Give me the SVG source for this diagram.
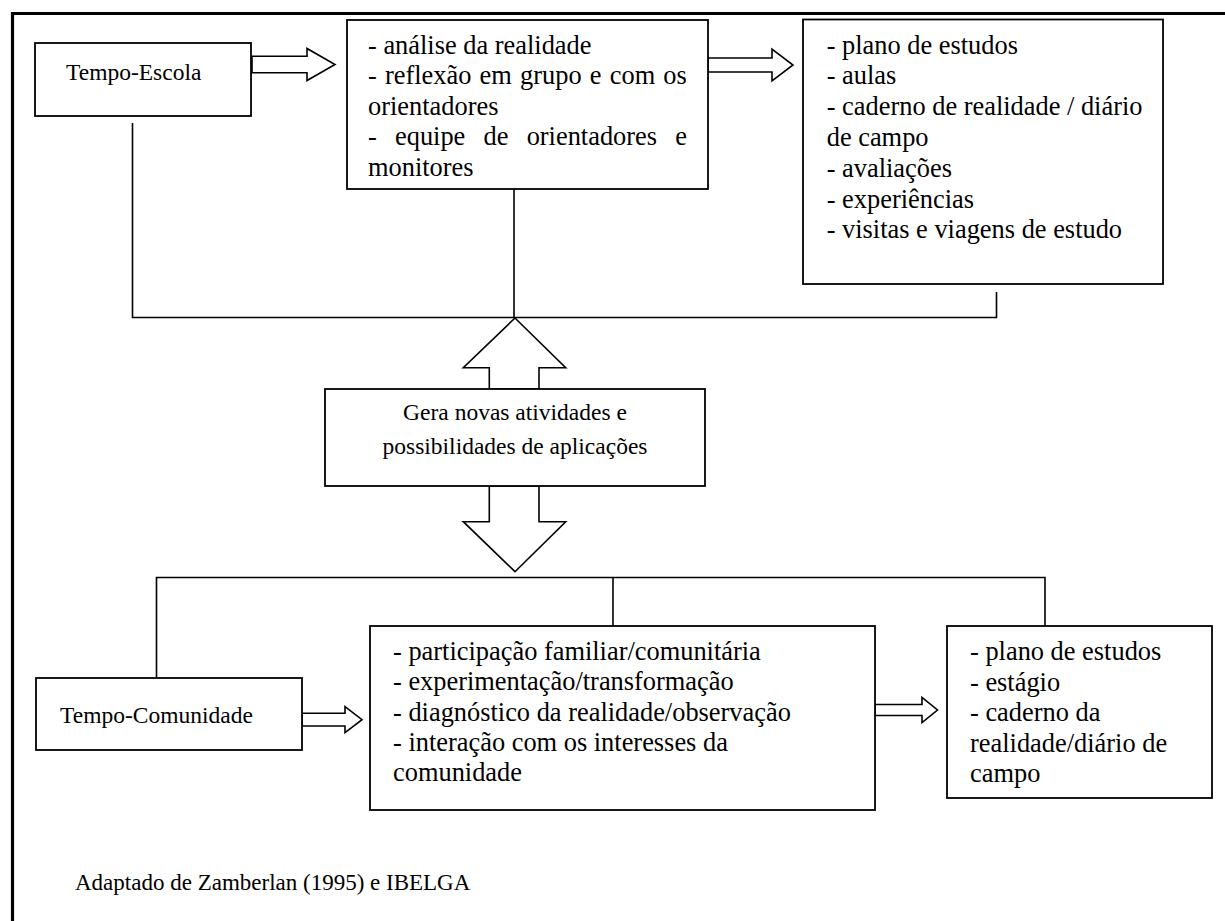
<svg xmlns="http://www.w3.org/2000/svg" width="1225" height="921" viewBox="0 0 1225 921">
<style>
.box{fill:#fff;stroke:#000;stroke-width:1.8}
.ln{fill:none;stroke:#000;stroke-width:1.6}
.ar{fill:#fff;stroke:#000;stroke-width:1.6;stroke-linejoin:miter}
text{font-family:"Liberation Serif","Times New Roman",serif;fill:#000}
.t26{font-size:26.4px}
.t23{font-size:23.5px}
.ft{font-size:23px}
</style>
<rect width="1225" height="921" fill="#fff"/>
<g id="frame">
<path d="M12.5 921 V13.5 H1225" fill="none" stroke="#000" stroke-width="3.2"/>
</g>
<g id="connectors">
<path class="ln" d="M132.5 123 V317.5 H996.5 V292"/>
<path class="ln" d="M514 189 V317.5"/>
<path class="ln" d="M156.5 678 V577.5 H1045 V626"/>
<path class="ln" d="M613 577.5 V626"/>
<polygon class="ar" d="M0 0" points="252,56.3 307,56.3 307,48.5 335,64.5 307,80.5 307,72.7 252,72.7"/>
<polygon class="ar" points="708,58 772,58 772,49 793,65 772,81 772,72 708,72"/>
<polygon class="ar" points="302,713.3 345,713.3 345,706.7 362,719.7 345,732.7 345,726 302,726"/>
<polygon class="ar" points="875,704.5 922,704.5 922,697.5 937.5,710 922,722.5 922,715.5 875,715.5"/>
<polygon class="ar" points="489.3,389 489.3,367.7 463.3,367.7 515,318 565.7,367.7 539,367.7 539,389"/>
<polygon class="ar" points="489.3,486 489.3,521.7 463.3,521.7 515,571.7 565.7,521.7 539,521.7 539,486"/>
</g>
<g id="tempo-escola">
<rect class="box" x="35" y="43" width="216" height="73"/>
<text class="t23" x="66" y="80">Tempo-Escola</text>
</g>
<g id="escola-atividades">
<rect class="box" x="347" y="20" width="361" height="169"/>
<text class="t26" x="368" y="53.5">- análise da realidade</text>
<text class="t26" x="368" y="84" word-spacing="1.6">- reflexão em grupo e com os</text>
<text class="t26" x="368" y="114.5">orientadores</text>
<text class="t26" x="368" y="145" word-spacing="11.6">- equipe de orientadores e</text>
<text class="t26" x="368" y="175.5">monitores</text>
</g>
<g id="escola-instrumentos">
<rect class="box" x="803" y="19.5" width="360" height="264.5"/>
<text class="t26" x="826.7" y="53.5">- plano de estudos</text>
<text class="t26" x="826.7" y="84.3">- aulas</text>
<text class="t26" x="826.7" y="115.1">- caderno de realidade / diário</text>
<text class="t26" x="826.7" y="145.9">de campo</text>
<text class="t26" x="826.7" y="176.7">- avaliações</text>
<text class="t26" x="826.7" y="207.5">- experiências</text>
<text class="t26" x="826.7" y="238.3">- visitas e viagens de estudo</text>
</g>
<g id="gera">
<rect class="box" x="325" y="389" width="380" height="97"/>
<text class="t23" x="515" y="420" text-anchor="middle">Gera novas atividades e</text>
<text class="t23" x="515" y="454" text-anchor="middle">possibilidades de aplicações</text>
</g>
<g id="tempo-comunidade">
<rect class="box" x="36" y="678" width="266" height="72"/>
<text class="t23" x="60" y="723">Tempo-Comunidade</text>
</g>
<g id="comunidade-atividades">
<rect class="box" x="370" y="626" width="505" height="184"/>
<text class="t26" x="393" y="660">- participação familiar/comunitária</text>
<text class="t26" x="393" y="690">- experimentação/transformação</text>
<text class="t26" x="393" y="720.5">- diagnóstico da realidade/observação</text>
<text class="t26" x="393" y="751">- interação com os interesses da</text>
<text class="t26" x="393" y="781">comunidade</text>
</g>
<g id="comunidade-instrumentos">
<rect class="box" x="947" y="626" width="265" height="172"/>
<text class="t26" x="970" y="660">- plano de estudos</text>
<text class="t26" x="970" y="690.5">- estágio</text>
<text class="t26" x="970" y="721">- caderno da</text>
<text class="t26" x="970" y="751.5">realidade/diário de</text>
<text class="t26" x="970" y="782">campo</text>
</g>
<g id="fonte">
<text class="ft" x="75" y="890">Adaptado de Zamberlan (1995) e IBELGA</text>
</g>
</svg>
